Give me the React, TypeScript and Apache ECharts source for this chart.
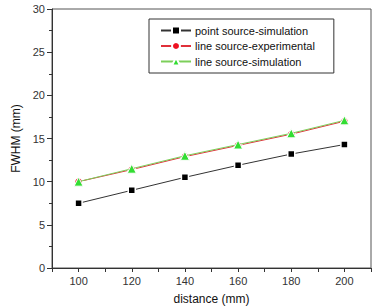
import React, { useEffect, useRef } from "react";
import * as echarts from "echarts";

const distances = [100, 120, 140, 160, 180, 200];
const pointSim = [7.5, 9.0, 10.5, 11.9, 13.2, 14.3];
const lineExp = [10.0, 11.4, 12.9, 14.2, 15.5, 17.0];
const lineSim = [10.0, 11.5, 13.0, 14.3, 15.6, 17.1];
const seriesNames = ["point source-simulation", "line source-experimental", "line source-simulation"];

const font = "Liberation Sans, Arial, sans-serif";

export default function App() {
  const ref = useRef<HTMLDivElement>(null);
  useEffect(() => {
    if (!ref.current) return;
    const chart = echarts.init(ref.current, undefined, { renderer: "svg" });
    const pair = (arr: number[]) => distances.map((d, i) => [d, arr[i]]);
    chart.setOption({
      animation: false,
      backgroundColor: "#fff",
      textStyle: { fontFamily: font },
      grid: {
        left: 52,
        right: 7,
        top: 9,
        bottom: 39,
        show: true,
        borderColor: "#555",
        borderWidth: 1,
        containLabel: false,
        outerBoundsMode: "none",
      },
      legend: {
        orient: "vertical",
        left: 149,
        top: 19,
        borderColor: "#333",
        borderWidth: 1,
        padding: [6, 19, 6, 11],
        itemGap: 4.5,
        itemWidth: 30,
        itemHeight: 10,
        textStyle: { fontFamily: font, fontSize: 11, color: "#111", padding: [0, 0, 0, -1] },
        data: seriesNames,
      },
      xAxis: {
        type: "value",
        min: 90,
        max: 210,
        interval: 10,
        name: "distance (mm)",
        nameLocation: "middle",
        nameGap: 25,
        nameTextStyle: { fontFamily: font, fontSize: 12, color: "#111" },
        axisLine: { lineStyle: { color: "#333" } },
        axisTick: { show: true, inside: false, length: 4, lineStyle: { color: "#333" } },
        axisLabel: {
          fontFamily: font,
          fontSize: 11,
          color: "#333",
          margin: 7,
          formatter: (v: number) => (v % 20 === 0 && v >= 100 && v <= 200 ? String(v) : ""),
        },
        splitLine: { show: false },
      },
      yAxis: {
        type: "value",
        min: 0,
        max: 30,
        interval: 5,
        name: "FWHM (mm)",
        nameLocation: "middle",
        nameGap: 26,
        nameTextStyle: { fontFamily: font, fontSize: 12, color: "#111" },
        axisLine: { show: true, lineStyle: { color: "#333" } },
        axisTick: { show: true, inside: false, length: 5, lineStyle: { color: "#333" } },
        minorTick: { show: true, splitNumber: 2, length: 3, lineStyle: { color: "#333" } },
        axisLabel: { fontFamily: font, fontSize: 11, color: "#333", margin: 7 },
        splitLine: { show: false },
      },
      series: [
        {
          name: seriesNames[0],
          type: "line",
          data: pair(pointSim),
          symbol: "rect",
          symbolSize: 7,
          lineStyle: { color: "#333", width: 1 },
          itemStyle: { color: "#000", borderColor: "#fff", borderWidth: 1.5 },
          z: 2,
        },
        {
          name: seriesNames[1],
          type: "line",
          data: pair(lineExp),
          symbol: "circle",
          symbolSize: 8,
          lineStyle: { color: "#e0303a", width: 1 },
          itemStyle: { color: "#ee1122", borderColor: "#fff", borderWidth: 1.5 },
          z: 3,
        },
        {
          name: seriesNames[2],
          type: "line",
          data: pair(lineSim),
          symbol: "triangle",
          symbolSize: 9,
          lineStyle: { color: "#7ccf5a", width: 1 },
          itemStyle: { color: "#33dd33", borderColor: "#fff", borderWidth: 1 },
          z: 4,
        },
      ],
    });
    return () => chart.dispose();
  }, []);
  return <div ref={ref} style={{ width: 378, height: 307, position: "absolute", left: 0, top: 0 }} />;
}
